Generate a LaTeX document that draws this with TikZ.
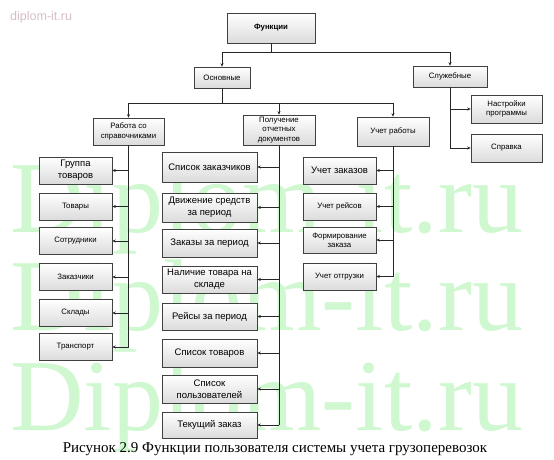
\documentclass[tikz,border=0pt]{standalone}
\usepackage{fontspec}
\setmainfont{Liberation Sans}
\newfontfamily\serifrm{Liberation Serif}
\usetikzlibrary{arrows.meta,shadows}
\definecolor{wm}{RGB}{208,248,208}
\definecolor{wmtop}{RGB}{215,190,195}
\begin{document}
\begin{tikzpicture}[x=1pt,y=-1pt,
  box/.style={draw=black!75, line width=0.6pt, top color=white, bottom color=black!14,
    align=center, inner sep=1pt, font=\fontsize{7.8}{9.3}\selectfont,
    drop shadow={shadow xshift=0.9pt,shadow yshift=-0.9pt,opacity=0.35}},
  big/.style={font=\fontsize{9.5}{12}\selectfont},
  lc/.style={box, minimum width=73, minimum height=27},
  mc/.style={box, big, minimum width=95, minimum height=28},
  rc/.style={box, minimum width=73, minimum height=27},
  ln/.style={line width=0.7pt, draw=black!85},
  arr/.style={ln, -{Stealth[length=3.5pt,width=3pt]}},
  wmark/.style={text=wm, font=\serifrm\fontsize{102}{102}\selectfont, anchor=base west, inner sep=0pt}
]
\useasboundingbox (0,0) rectangle (554,460);
\fill[white] (0,0) rectangle (554,460);

% watermark (behind)
\node[wmark] (w1) at (10,232) {Diplom-it.ru};
\node[wmark] (w2) at (10,330) {Diplom-it.ru};
\node[wmark] (w3) at (10,430) {Diplom-it.ru};

\node[text=wmtop, font=\fontsize{12.5}{14}\selectfont, anchor=base west, inner sep=0pt] (site) at (10,21) {diplom-it.ru};

% top level
\node[box, font=\bfseries\fontsize{7.8}{9}\selectfont, minimum width=88, minimum height=30] (fun) at (271,28) {Функции};
\node[box, minimum width=56, minimum height=21] (osn) at (222,77.5) {Основные};
\node[box, minimum width=74, minimum height=21] (slu) at (450,76.5) {Служебные};
\node[box, minimum width=71, minimum height=28] (nas) at (506.5,109) {Настройки\\программы};
\node[box, minimum width=71, minimum height=28] (spr) at (506.5,148) {Справка};

% second level
\node[box, minimum width=71, minimum height=27] (rab) at (128.5,131.5) {Работа со\\справочниками};
\node[box, minimum width=72, minimum height=30, inner sep=0pt] (pol) at (279,130) {Получение\\отчетных\\документов};
\node[box, minimum width=72, minimum height=29] (uch) at (393,131.5) {Учет работы};

% left column
\node[lc, big] (gt) at (75.5,170.5) {Группа\\товаров};
\node[lc] (tov) at (75.5,206.5) {Товары};
\node[lc] (sot) at (75.5,241) {Сотрудники};
\node[lc] (zak) at (75.5,277) {Заказчики};
\node[lc] (skl) at (75.5,313) {Склады};
\node[lc] (tra) at (75.5,347) {Транспорт};

% middle column
\node[mc, minimum height=30] (sz) at (209.5,167) {Список заказчиков};
\node[mc, minimum height=29] (dv) at (209.5,207.5) {Движение средств\\за период};
\node[mc] (zp) at (209.5,243) {Заказы за период};
\node[mc, minimum height=27] (nal) at (209.5,279.5) {Наличие товара на\\складе};
\node[mc, minimum height=27] (rp) at (209.5,316.5) {Рейсы за период};
\node[mc] (st) at (209.5,353) {Список товаров};
\node[mc] (sp) at (209.5,389) {Список\\пользователей};
\node[mc, minimum height=26] (tz) at (209.5,425) {Текущий заказ};

% right column
\node[rc, big] (uz) at (339.5,170.5) {Учет заказов};
\node[rc] (ur) at (339.5,206.5) {Учет рейсов};
\node[rc, minimum height=26] (fz) at (339.5,240) {Формирование\\заказа};
\node[rc] (uo) at (339.5,276.5) {Учет отгрузки};

% connectors top
\coordinate (j1) at (271,52);
\draw[ln] (fun.south) -- (j1);
\draw[arr] (j1) -| (osn.north);
\draw[arr] (j1) -| (slu.north);
\coordinate (j2) at (222,103);
\draw[ln] (osn.south) -- (j2);
\draw[arr] (j2) -| (rab.north);
\draw[arr] (j2) -| (pol.north);
\draw[arr] (j2) -| (uch.north);

% service
\draw[ln] (slu.south) -- (slu.south |- spr.west);
\foreach \n in {nas,spr} \draw[arr] (slu.south |- \n.west) -- (\n.west);

% left trunk
\draw[ln] (rab.south) -- (rab.south |- tra.east);
\foreach \n in {gt,tov,sot,zak,skl,tra} \draw[arr] (rab.south |- \n.east) -- (\n.east);

% middle trunk
\draw[ln] (pol.south) -- (pol.south |- tz.east);
\foreach \n in {sz,dv,zp,nal,rp,st,sp,tz} \draw[arr] (pol.south |- \n.east) -- (\n.east);

% right trunk
\draw[ln] (uch.south) -- (uch.south |- uo.east);
\foreach \n in {uz,ur,fz,uo} \draw[arr] (uch.south |- \n.east) -- (\n.east);

% caption
\node[font=\serifrm\fontsize{15}{17}\selectfont, anchor=base, inner sep=0pt] (cap) at (275,452) {Рисунок 2.9 Функции пользователя системы учета грузоперевозок};
\end{tikzpicture}
\end{document}
